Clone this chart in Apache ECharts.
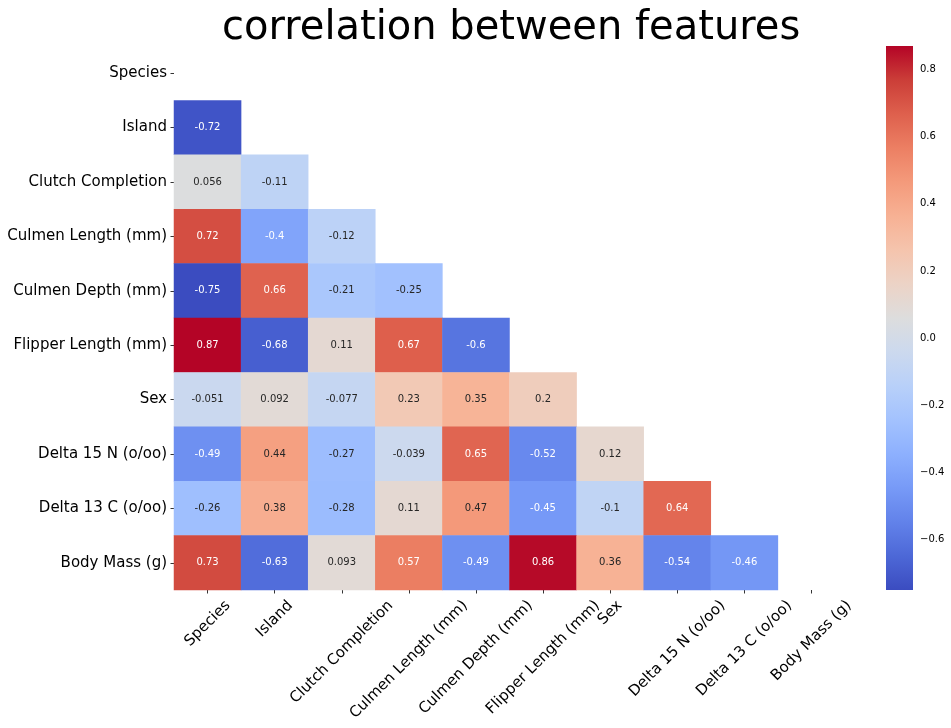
<!DOCTYPE html>
<html><head><meta charset="utf-8">
<script src="https://cdn.jsdelivr.net/npm/echarts@6/dist/echarts.min.js"></script>
<style>html,body{margin:0;padding:0;background:#fff}#chart{width:951px;height:728px}</style>
</head><body><div id="chart"></div>
<script>
// ---- data ----
const features = ['Species','Island','Clutch Completion','Culmen Length (mm)','Culmen Depth (mm)',
  'Flipper Length (mm)','Sex','Delta 15 N (o/oo)','Delta 13 C (o/oo)','Body Mass (g)'];
const rowSpecies = [];
const rowIsland = [-0.72];
const rowClutch = [0.056, -0.11];
const rowCulmenLength = [0.72, -0.4, -0.12];
const rowCulmenDepth = [-0.75, 0.66, -0.21, -0.25];
const rowFlipper = [0.87, -0.68, 0.11, 0.67, -0.6];
const rowSex = [-0.051, 0.092, -0.077, 0.23, 0.35, 0.2];
const rowDelta15N = [-0.49, 0.44, -0.27, -0.039, 0.65, -0.52, 0.12];
const rowDelta13C = [-0.26, 0.38, -0.28, 0.11, 0.47, -0.45, -0.1, 0.64];
const rowBodyMass = [0.73, -0.63, 0.093, 0.57, -0.49, 0.86, 0.36, -0.54, -0.46];
const corrRows = [rowSpecies,rowIsland,rowClutch,rowCulmenLength,rowCulmenDepth,rowFlipper,rowSex,rowDelta15N,rowDelta13C,rowBodyMass];
const colorbarTicks = [-0.6,-0.4,-0.2,0.0,0.2,0.4,0.6,0.8];
const colorMin = -0.75, colorMax = 0.87;
const titleText = 'correlation between features';

// coolwarm colormap stops
const coolwarm = ['#3b4cc0','#4d68d7','#6282ea','#779af7','#8db0fe','#a3c2fe','#b8d0f9','#ccd9ee',
  '#dddddd','#ecd3c6','#f5c4ad','#f7b194','#f49a7b','#ec7f63','#de604d','#cb3e38','#b40426'];

function hexToRgb(h){return [parseInt(h.slice(1,3),16),parseInt(h.slice(3,5),16),parseInt(h.slice(5,7),16)];}
function cmap(v){
  let t=(v-colorMin)/(colorMax-colorMin); t=Math.max(0,Math.min(1,t));
  const n=coolwarm.length-1, f=t*n, i=Math.min(n-1,Math.floor(f)), r=f-i;
  const a=hexToRgb(coolwarm[i]), b=hexToRgb(coolwarm[i+1]);
  return a.map((c,k)=>c+(b[k]-c)*r);
}
function lum(rgb){
  const lin=rgb.map(c=>{c/=255;return c<=0.03928?c/12.92:Math.pow((c+0.055)/1.055,2.4);});
  return 0.2126*lin[0]+0.7152*lin[1]+0.0722*lin[2];
}
function textColor(v){return lum(cmap(v))>0.408?'#262626':'#ffffff';}
function fmt2g(v){return String(Number(v.toPrecision(2)));}

const heatData=[];
corrRows.forEach((row,i)=>row.forEach((v,j)=>{
  heatData.push({value:[j,i,v],label:{color:textColor(v)}});
}));

// x label layout (matplotlib-like rotated, centered bbox)
const FONT="'DejaVu Sans'";
const cv=document.createElement('canvas').getContext('2d');
cv.font="15px "+FONT;
const rich={};
features.forEach((f,i)=>{
  const w=cv.measureText(f).width, h=17.5;
  const p=0.5*(w+h);
  rich['x'+i]={fontSize:15,fontFamily:FONT,color:'#000',padding:[p,p,0,0]};
});

const gradStops=coolwarm.map((c,i)=>({offset:1-i/(coolwarm.length-1),color:c})).reverse();

const chart=echarts.init(document.getElementById('chart'),null,{renderer:'canvas'});
chart.setOption({
  animation:false,
  backgroundColor:'#fff',
  title:{text:titleText,left:217,top:4,textStyle:{fontSize:40,fontWeight:'normal',fontFamily:FONT,color:'#000'}},
  grid:[
    {left:174,top:46,width:671,height:544,containLabel:false,outerBoundsMode:'none'},
    {left:886,top:46,width:27,height:544,containLabel:false,outerBoundsMode:'none'}
  ],
  xAxis:[
    {type:'category',gridIndex:0,data:features,position:'bottom',
     axisLine:{show:false},splitLine:{show:false},
     axisTick:{show:true,alignWithLabel:true,length:3.5,lineStyle:{color:'#000',width:0.8}},
     axisLabel:{interval:0,rotate:45,align:'center',verticalAlign:'middle',margin:7,
       formatter:(v,i)=>'{x'+i+'|'+v+'}',rich:rich}},
    {type:'value',gridIndex:1,show:false,min:0,max:1}
  ],
  yAxis:[
    {type:'category',gridIndex:0,data:features,inverse:true,
     axisLine:{show:false},splitLine:{show:false},
     axisTick:{show:true,alignWithLabel:true,length:3.5,lineStyle:{color:'#000',width:0.8}},
     axisLabel:{interval:0,margin:7,fontSize:15,fontFamily:FONT,color:'#000'}},
    {type:'value',gridIndex:1,position:'right',min:colorMin,max:colorMax,
     axisLine:{show:false},splitLine:{show:false},
     axisTick:{show:true,length:3.5,customValues:colorbarTicks,lineStyle:{color:'#000',width:0.8}},
     axisLabel:{show:true,margin:7,fontSize:10,fontFamily:FONT,color:'#000',customValues:colorbarTicks,
       formatter:v=>(v<-1e-9?'\u2212':'')+Math.abs(v).toFixed(1)}}
  ],
  visualMap:[{type:'continuous',show:false,min:colorMin,max:colorMax,seriesIndex:0,dimension:2,
    inRange:{color:coolwarm}}],
  series:[
    {type:'heatmap',xAxisIndex:0,yAxisIndex:0,data:heatData,
     label:{show:true,fontSize:10,fontFamily:FONT,formatter:p=>fmt2g(p.value[2])},
     emphasis:{disabled:true}},
    {type:'custom',xAxisIndex:1,yAxisIndex:1,silent:true,data:[[colorMin,colorMax]],
     renderItem:(params,api)=>{
       const lo=api.coord([0,api.value(0)]), hi=api.coord([1,api.value(1)]);
       return {type:'rect',shape:{x:lo[0],y:hi[1],width:hi[0]-lo[0],height:lo[1]-hi[1]},
         style:{fill:new echarts.graphic.LinearGradient(0,0,0,1,gradStops)}};
     }}
  ]
});
</script></body></html>
